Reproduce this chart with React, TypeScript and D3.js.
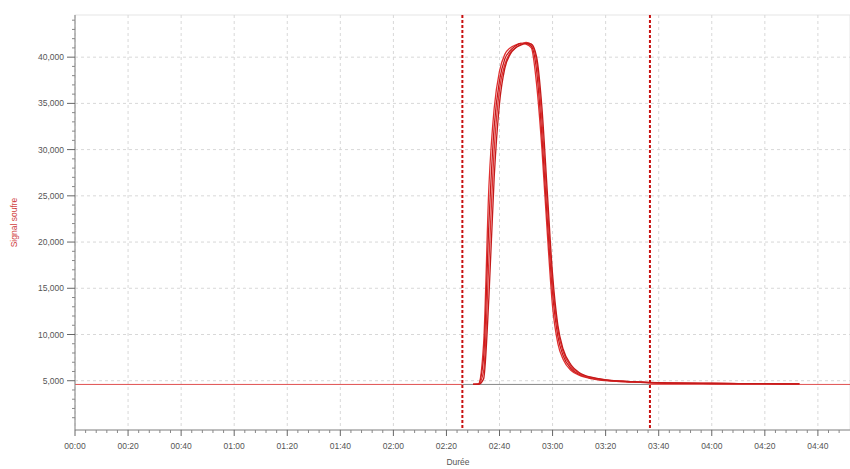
import React from "react";
import * as d3 from "d3";

const times = [150, 152, 154, 156, 158, 160, 162, 164, 166, 168, 170, 172, 174, 176, 178, 180, 182, 184, 187, 190, 195, 200, 210, 220, 240, 260, 273];
const run1 = [4600, 4650, 9000, 26000, 34500, 38500, 40300, 41000, 41300, 41500, 41400, 41000, 37000, 30000, 21000, 13000, 9000, 7300, 6100, 5600, 5200, 5000, 4850, 4750, 4700, 4680, 4650];
const run2 = [4600, 4620, 7500, 22000, 32500, 37500, 39800, 40700, 41200, 41500, 41500, 41200, 38500, 31500, 22500, 14500, 9800, 7700, 6300, 5700, 5250, 5050, 4880, 4760, 4700, 4680, 4650];
const run3 = [4600, 4600, 6000, 18000, 30000, 36500, 39200, 40500, 41000, 41400, 41600, 41400, 39500, 33000, 24000, 15500, 10500, 8100, 6500, 5800, 5300, 5080, 4890, 4770, 4710, 4680, 4650];
const run4 = [4600, 4600, 5200, 14000, 27000, 35000, 38800, 40300, 41000, 41300, 41500, 41400, 40000, 34500, 25500, 16500, 11000, 8400, 6700, 5900, 5350, 5100, 4900, 4780, 4710, 4680, 4650];
const runs = [run1, run2, run3, run4];
const baseline = 4600;
const markers = [146, 216.7];
const yTicks = [5000, 10000, 15000, 20000, 25000, 30000, 35000, 40000];
const xTicks = d3.range(0, 281, 20);

const fmtTime = (s: number) =>
  `${String(Math.floor(s / 60)).padStart(2, "0")}:${String(s % 60).padStart(2, "0")}`;

export default function App() {
  const W = 850, H = 469;
  const left = 75, right = 850, top = 15, bottom = 430;
  const x = d3.scaleLinear().domain([0, 292.1]).range([left, right]);
  const y = d3.scaleLinear().domain([-330, 44560]).range([bottom, top]);
  const line = d3.line<number>().x((_, i) => x(times[i])).y(d => y(d)).curve(d3.curveMonotoneX);
  const minorX = d3.range(0, 289, 4).filter(v => v % 20 !== 0);
  const minorY = d3.range(0, 44001, 1000).filter(v => v % 5000 !== 0);
  const font = "Arial, 'Liberation Sans', sans-serif";

  return (
    <svg width={W} height={H} style={{ position: "absolute", left: 0, top: 0, background: "#fff" }} fontFamily={font}>
      <rect x={left} y={top} width={right - left} height={bottom - top} fill="#fff" stroke="#e6e6e6" />
      {xTicks.map(t => (
        <line key={"gx" + t} x1={x(t)} x2={x(t)} y1={top} y2={bottom} stroke="#d8d8d8" strokeDasharray="3,3" />
      ))}
      {yTicks.map(t => (
        <line key={"gy" + t} x1={left} x2={right} y1={y(t)} y2={y(t)} stroke="#d8d8d8" strokeDasharray="3,3" />
      ))}
      <line x1={left} x2={x(markers[0])} y1={y(baseline)} y2={y(baseline)} stroke="#e05050" strokeWidth={1} />
      <line x1={x(markers[0])} x2={x(markers[1])} y1={y(baseline)} y2={y(baseline)} stroke="#888" strokeWidth={1} />
      <line x1={x(markers[1])} x2={right} y1={y(baseline)} y2={y(baseline)} stroke="#e05050" strokeWidth={1} />
      {runs.map((r, i) => (
        <path key={i} d={line(r) || ""} fill="none" stroke={i % 2 ? "#c41a1a" : "#e03030"} strokeWidth={1.3} />
      ))}
      {markers.map(m => (
        <line key={m} x1={x(m)} x2={x(m)} y1={top} y2={bottom} stroke="#c81010" strokeWidth={2} strokeDasharray="3,2" />
      ))}
      <line x1={left} x2={left} y1={top} y2={bottom} stroke="#888" />
      <line x1={left} x2={right} y1={bottom} y2={bottom} stroke="#888" />
      {yTicks.map(t => (
        <g key={"ty" + t}>
          <line x1={left - 8} x2={left} y1={y(t)} y2={y(t)} stroke="#666" />
          <text x={left - 11} y={y(t) + 3} fontSize={8.5} textAnchor="end" fill="#555">{d3.format(",")(t)}</text>
        </g>
      ))}
      {minorY.map(t => (
        <line key={"my" + t} x1={left - 3} x2={left} y1={y(t)} y2={y(t)} stroke="#888" />
      ))}
      {xTicks.map(t => (
        <g key={"tx" + t}>
          <line x1={x(t)} x2={x(t)} y1={bottom} y2={bottom + 6} stroke="#666" />
          <text x={x(t)} y={bottom + 19} fontSize={8.5} textAnchor="middle" fill="#555">{fmtTime(t)}</text>
        </g>
      ))}
      {minorX.map(t => (
        <line key={"mx" + t} x1={x(t)} x2={x(t)} y1={bottom} y2={bottom + 3} stroke="#888" />
      ))}
      <text x={458} y={465} fontSize={8.5} textAnchor="middle" fill="#555">Durée</text>
      <text transform={`translate(17,${(top + bottom) / 2}) rotate(-90)`} fontSize={8.5} textAnchor="middle" fill="#d04040">Signal soufre</text>
    </svg>
  );
}
